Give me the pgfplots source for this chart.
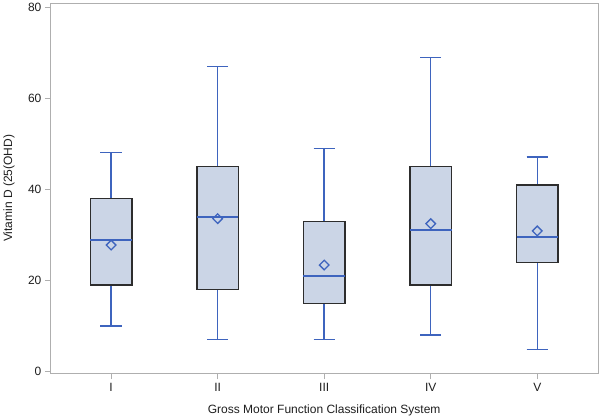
\documentclass[border=0pt]{standalone}
\usepackage{pgfplots}
\pgfplotsset{compat=1.18}
\usepgfplotslibrary{statistics}
\usepackage{fontspec}
\setmainfont{Liberation Sans}

\definecolor{boxfill}{RGB}{203,213,230}
\definecolor{whisk}{RGB}{62,100,190}
\definecolor{boxedge}{RGB}{45,45,45}
\definecolor{axgray}{RGB}{175,175,175}
\definecolor{txt}{RGB}{30,30,30}

\pgfplotsset{
  vbox/.style={/tikz/draw=whisk, /tikz/fill=boxfill, /tikz/line width=1.5pt, /tikz/solid, /tikz/mark=none},
}

\begin{document}
\begin{tikzpicture}
\begin{axis}[
  name=ax,
  width=548pt, height=371pt, scale only axis,
  xmin=0.43, xmax=5.57, ymin=-0.5, ymax=81,
  xtick={1,2,3,4,5}, xticklabels={I,II,III,IV,V},
  ytick={0,20,40,60,80},
  axis line style={axgray, line width=1pt},
  tick style={axgray, line width=1pt},
  tick align=outside, tick pos=left,
  major tick length=5.5pt,
  font=\fontsize{12}{14}\selectfont,
  text=txt,
  /pgf/number format/assume math mode=true,
  xlabel={Gross Motor Function Classification System},
  ylabel={Vitamin D (25(OHD)},
  every axis x label/.style={at={(axis description cs:0.5,0)}, yshift=-36.5pt, anchor=center},
  every axis y label/.style={at={(axis description cs:0,0.5)}, xshift=-41.5pt, rotate=90, anchor=center},
  boxplot/draw direction=y,
  boxplot/box extend=0.39,
  boxplot/whisker extend=0.2,
  boxplot/every box/.style={/tikz/draw=boxedge, /tikz/line width=1.3pt},
]
\addplot+[vbox, boxplot prepared={draw position=1, lower whisker=10, lower quartile=19, median=28.9, upper quartile=38, upper whisker=48.1}] coordinates {};
\addplot+[vbox, boxplot prepared={draw position=2, lower whisker=7, lower quartile=18, median=34, upper quartile=45, upper whisker=67}] coordinates {};
\addplot+[vbox, boxplot prepared={draw position=3, lower whisker=7, lower quartile=15, median=21, upper quartile=33, upper whisker=49}] coordinates {};
\addplot+[vbox, boxplot prepared={draw position=4, lower whisker=8, lower quartile=19, median=31.1, upper quartile=45, upper whisker=69}] coordinates {};
\addplot+[vbox, boxplot prepared={draw position=5, lower whisker=4.8, lower quartile=24, median=29.6, upper quartile=41, upper whisker=47.2}] coordinates {};
\addplot[only marks, mark=square, mark size=3.4pt, mark options={rotate=45, draw=whisk, fill=boxfill, line width=1.3pt}]
  coordinates {(1,27.8) (2,33.6) (3,23.4) (4,32.5) (5,30.9)};
\end{axis}
% page margins as in the reference
\path (ax.south west) ++(-50pt,-45pt);
\path (ax.north east) ++(2pt,2.5pt);
\end{tikzpicture}
\end{document}
